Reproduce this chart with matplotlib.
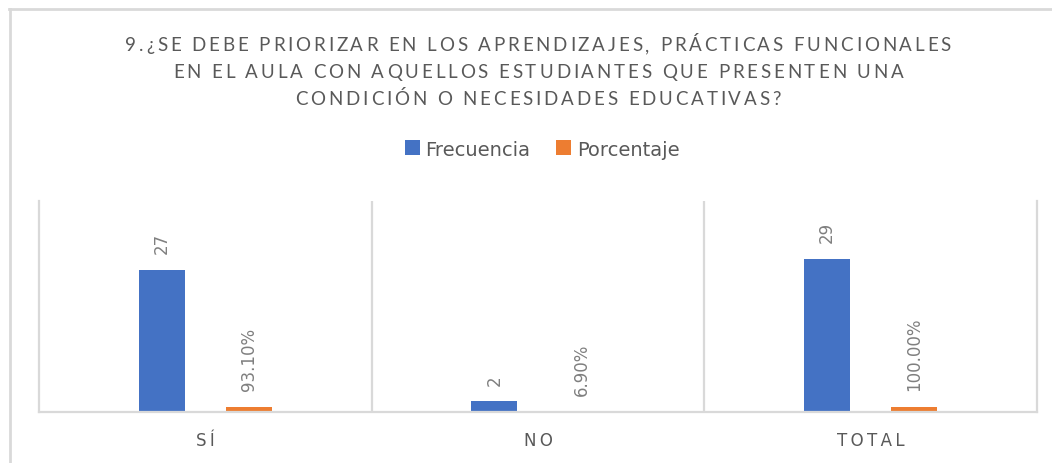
import matplotlib
matplotlib.use("Agg")
import matplotlib.pyplot as plt
from matplotlib.lines import Line2D
from matplotlib.font_manager import FontProperties, findfont, get_font
import numpy as np

# data
categories = ["SÍ", "NO", "TOTAL"]
frecuencia = [27, 2, 29]
porcentaje = [0.931, 0.069, 1.0]
title_lines = [
    "9.¿SE DEBE PRIORIZAR EN LOS APRENDIZAJES, PRÁCTICAS FUNCIONALES",
    "EN EL AULA CON AQUELLOS ESTUDIANTES QUE PRESENTEN UNA",
    "CONDICIÓN O NECESIDADES EDUCATIVAS?",
]

W, H = 1052, 464
BLUE = "#4472C4"
ORANGE = "#ED7D31"
GRID = "#d9d9d9"
TXT = "#595959"
LBL = "#7f7f7f"


def char_advances(text, fp, dpi):
    font = get_font(findfont(fp))
    font.set_size(fp.get_size_in_points(), dpi)
    return [font.load_char(ord(c)).linearHoriAdvance / 65536 for c in text]


def tracked_text(fig, text, cx, base_y, fp, track, color):
    """draw text with extra letter spacing, centred on cx (pixels)"""
    advs = char_advances(text, fp, fig.dpi)
    total = sum(advs) + track * (len(text) - 1)
    x = cx - total / 2
    for c, a in zip(text, advs):
        if c != " ":
            fig.text((x + a / 2) / W, 1 - base_y / H, c, fontproperties=fp,
                     color=color, ha="center", va="baseline")
        x += a + track


fig = plt.figure(figsize=(W / 100, H / 100), dpi=100)
ax = fig.add_axes([39 / W, 51 / H, 998 / W, 211 / H])

x = np.arange(len(categories))
bw = 0.138
off = 0.131
b1 = ax.bar(x - off, frecuencia, bw, color=BLUE, label="Frecuencia", zorder=2)
b2 = ax.bar(x + off, porcentaje, bw, color=ORANGE, label="Porcentaje", zorder=2)

for xi, v in zip(x - off, frecuencia):
    ax.annotate(f"{v}", (xi, v), xytext=(0, 12), textcoords="offset points",
                rotation=90, ha="center", va="bottom", fontsize=12, color=LBL)
for xi, v in zip(x + off, porcentaje):
    ax.annotate(f"{v * 100:.2f}%", (xi, v), xytext=(0, 12), textcoords="offset points",
                rotation=90, ha="center", va="bottom", fontsize=12, color=LBL)

ax.set_xlim(-0.5, len(categories) - 0.5)
ax.set_ylim(0, 40)
ax.set_yticks([])
ax.set_xticks(x)
ax.set_xticklabels(["\u2009".join(list(c)) for c in categories],
                   fontsize=12, color=TXT)
ax.tick_params(axis="x", length=0, pad=14)
ax.spines["top"].set_visible(False)
for s in ["left", "right", "bottom"]:
    ax.spines[s].set_color(GRID)
    ax.spines[s].set_linewidth(1.6)
for b in x[:-1] + 0.5:
    ax.axvline(b, color=GRID, lw=1.6, zorder=1)

# title
tfp = FontProperties(family="Lato", size=13.5)
adv0 = char_advances(title_lines[0], tfp, 100)
track = (826 - sum(adv0)) / (len(title_lines[0]) - 1)
for line, by in zip(title_lines, [51, 78, 105]):
    tracked_text(fig, line, 538, by, tfp, track, TXT)

fig.legend(handles=[b1, b2], loc="center", bbox_to_anchor=(542 / W, 1 - 150 / H),
           ncol=2, frameon=False, fontsize=14, labelcolor=TXT,
           handlelength=0.77, handleheight=0.77, handletextpad=0.3,
           columnspacing=1.3)

# chart border (top and left edge visible)
fig.add_artist(Line2D([9.5 / W, 1], [1 - 10 / H, 1 - 10 / H], color=GRID, lw=2,
                      transform=fig.transFigure))
fig.add_artist(Line2D([10 / W, 10 / W], [0, 1 - 10 / H], color=GRID, lw=2,
                      transform=fig.transFigure))

fig.savefig("out.png", dpi=100)
